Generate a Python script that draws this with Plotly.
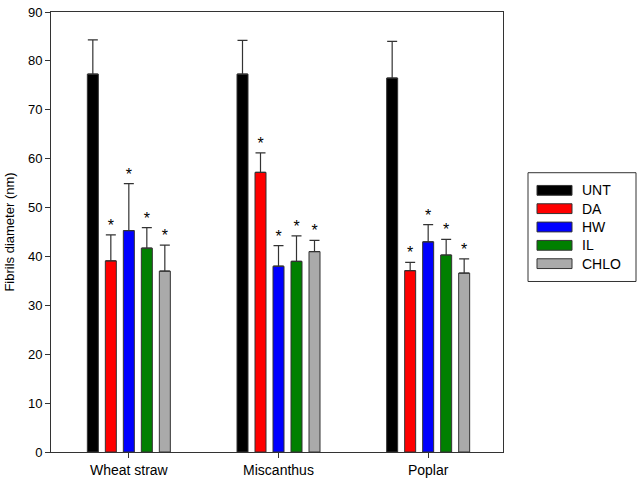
import plotly.graph_objects as go

categories = ["Wheat straw", "Miscanthus", "Poplar"]
series = ["UNT", "DA", "HW", "IL", "CHLO"]
colors = ["#000000", "#ff0000", "#0000ff", "#008000", "#aaaaaa"]
UNT = [77.3, 77.3, 76.5]
DA = [39.1, 57.2, 37.1]
HW = [45.3, 38.0, 43.0]
IL = [41.7, 39.0, 40.3]
CHLO = [37.0, 41.0, 36.6]
UNT_err = [7.0, 6.9, 7.5]
DA_err = [5.3, 4.0, 1.7]
HW_err = [9.6, 4.2, 3.5]
IL_err = [4.2, 5.2, 3.2]
CHLO_err = [5.3, 2.3, 2.9]
significant = [[False] * 3, [True] * 3, [True] * 3, [True] * 3, [True] * 3]

values = [UNT, DA, HW, IL, CHLO]
errors = [UNT_err, DA_err, HW_err, IL_err, CHLO_err]

# layout geometry (pixels)
W, H = 638, 483
L, R, T, B = 51, 135, 5, 29
pw = W - L - R
ph = H - T - B
xmin, xmax = -0.52, 2.5
unit = pw / (xmax - xmin)
pitch = 18 / unit
bw = 11 / unit

fig = go.Figure()
for i, (name, vals, errs, col) in enumerate(zip(series, values, errors, colors)):
    xs = [c + (i - 2) * pitch for c in range(len(categories))]
    fig.add_trace(go.Bar(
        x=xs, y=vals, width=bw, name=name, showlegend=False,
        marker=dict(color=col, line=dict(color="#333333", width=1)),
        error_y=dict(type="data", array=errs, arrayminus=[0] * len(errs),
                     symmetric=False, color="#333333", thickness=1.2, width=5),
    ))
    sx = [x for x, s in zip(xs, significant[i]) if s]
    sy = [v + e for v, e, s in zip(vals, errs, significant[i]) if s]
    if sx:
        fig.add_trace(go.Scatter(
            x=sx, y=sy, mode="text", text=["*"] * len(sx),
            textposition="top center", showlegend=False, hoverinfo="skip",
            textfont=dict(size=16, color="#000000", family="Liberation Sans, Arial"),
        ))

# manual legend box
def px2x(px):
    return (px - L) / pw

def py2y(py):
    return (H - B - py) / ph

shapes = [dict(type="rect", xref="paper", yref="paper",
               x0=px2x(528), x1=px2x(636), y0=py2y(280), y1=py2y(169),
               line=dict(color="#333333", width=1), fillcolor="white")]
annotations = []
for k, (name, col) in enumerate(zip(series, colors)):
    cy = 187 + k * 18.7
    shapes.append(dict(type="rect", xref="paper", yref="paper",
                       x0=px2x(537), x1=px2x(572), y0=py2y(cy + 5), y1=py2y(cy - 5),
                       line=dict(color="#333333", width=1), fillcolor=col))
    annotations.append(dict(xref="paper", yref="paper", x=px2x(580), y=py2y(cy),
                            text=name, showarrow=False, xanchor="left", yanchor="middle",
                            font=dict(size=14, color="#000000")))

fig.update_layout(
    width=W, height=H,
    margin=dict(l=L, r=R, t=T, b=B),
    plot_bgcolor="white", paper_bgcolor="white",
    barmode="overlay",
    font=dict(family="Liberation Sans, Arial", size=13, color="#000000"),
    shapes=shapes, annotations=annotations,
    xaxis=dict(range=[xmin, xmax], tickvals=list(range(len(categories))),
               ticktext=categories, ticks="outside", ticklen=5, tickcolor="#333333",
               showline=True, linecolor="#333333", linewidth=1, mirror=True,
               showgrid=False, zeroline=False, tickfont=dict(size=14),
               ticklabeloverflow="allow"),
    yaxis=dict(range=[0, 90], dtick=10, ticks="outside", ticklen=5, tickcolor="#333333",
               showline=True, linecolor="#333333", linewidth=1, mirror=True,
               showgrid=False, zeroline=False, tickfont=dict(size=13),
               ticklabeloverflow="allow",
               title=dict(text="Fibrils diameter (nm)", font=dict(size=13), standoff=10)),
)

fig.write_html("out.html", config={"displayModeBar": False},
               post_script="document.body.style.margin='0';document.body.style.padding='0';")
